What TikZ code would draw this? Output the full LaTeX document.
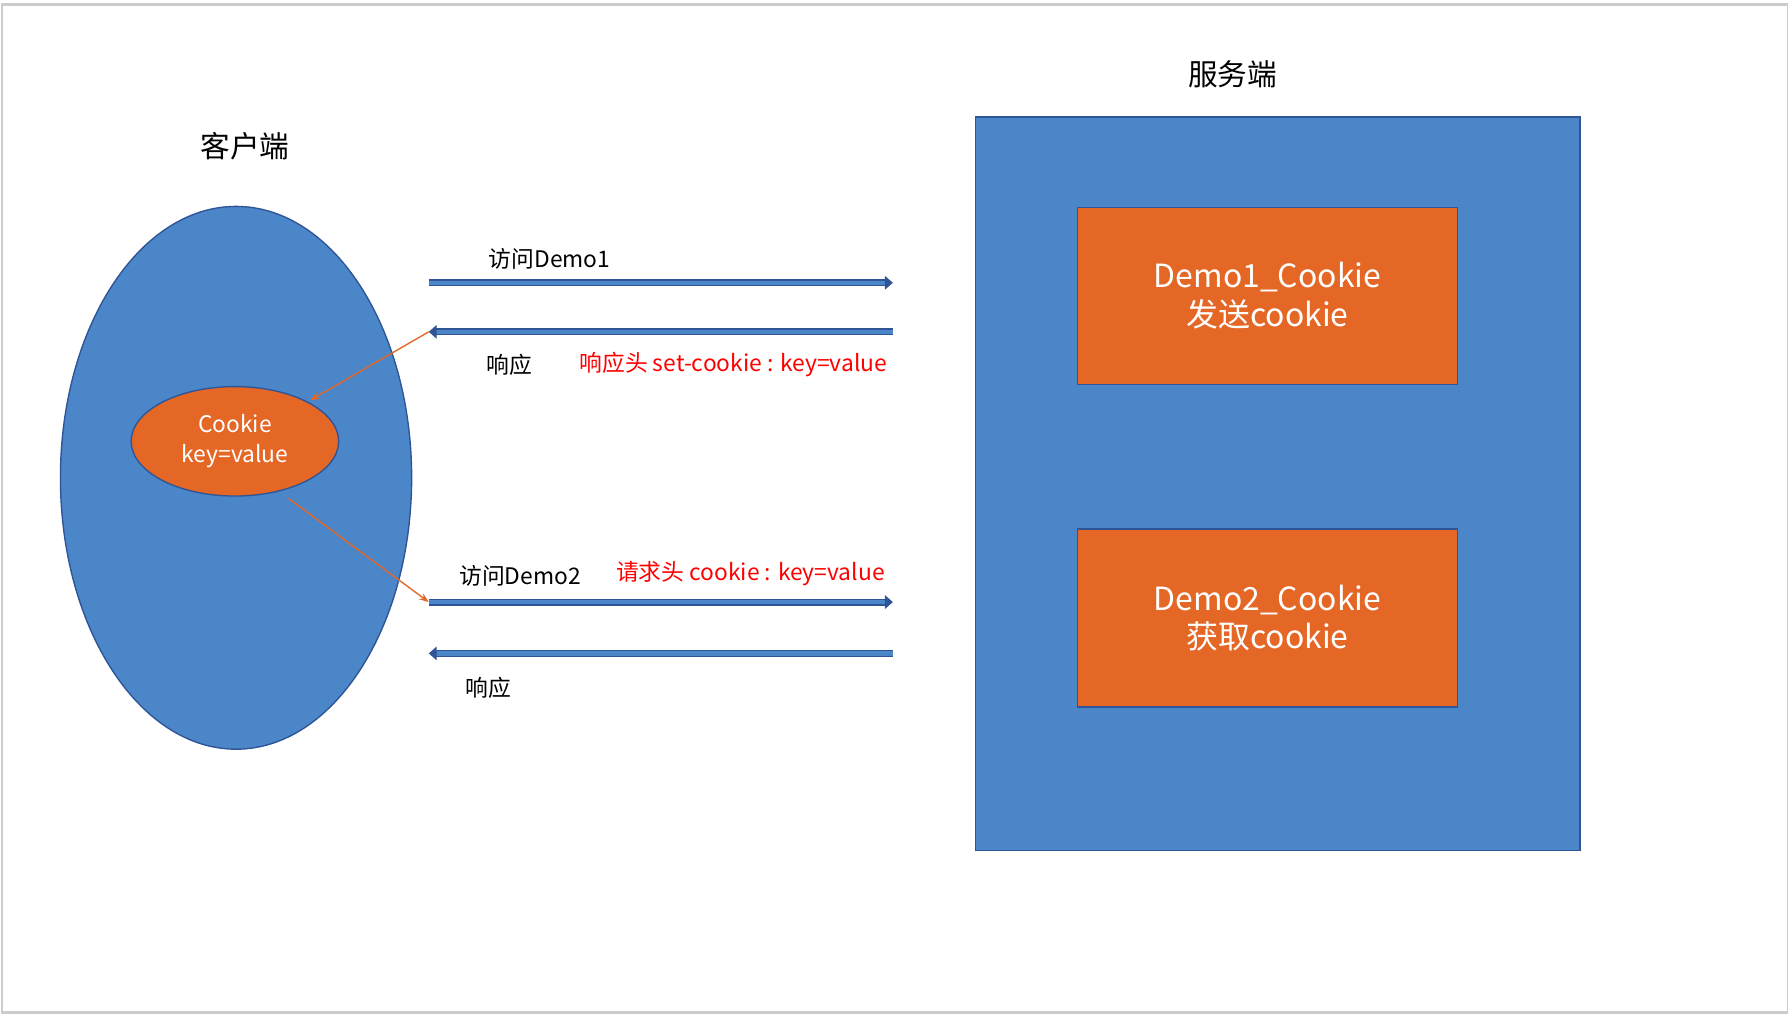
\documentclass[tikz,border=0pt]{standalone}
\usepackage{fontspec}
\usepackage{tikz}
\usetikzlibrary{arrows.meta,positioning,shapes.geometric}
\newfontfamily\cjk{Noto Sans CJK SC}
\definecolor{fillblue}{HTML}{4A86C8}
\definecolor{lineblue}{HTML}{2F5597}
\definecolor{cookieorange}{HTML}{E46726}

\begin{document}
\begin{tikzpicture}[x=1pt,y=-1pt,>=Stealth]
	\tikzset{
		blob/.style = {ellipse,draw=lineblue,fill=fillblue,line width=1.2},
		panel/.style = {rectangle,draw=lineblue,fill=fillblue,line width=1.2,anchor=north west},
		servlet/.style = {rectangle,draw=lineblue,fill=cookieorange,line width=1.2,text=white,align=center,font=\cjk\fontsize{28}{34}\selectfont},
		title/.style = {font=\cjk\fontsize{26}{30}\selectfont},
		lbl/.style = {font=\cjk\fontsize{20}{24}\selectfont},
		redlbl/.style = {lbl,text=red},
		flow/.style = {-{Triangle[length=7,width=12]},draw=lineblue,double=fillblue,double distance=4,line width=1},
		hint/.style = {->,draw=cookieorange,line width=1.2}
	}
	\useasboundingbox (0,0) rectangle (1568,891);
	\draw[black!20,line width=2] (2,4) rectangle (1568,888);

	% client side
	\node [title] (clientT) at (215,128) {客户端};
	\node [blob,minimum width=308,minimum height=476] (client) at (207,419) {};
	\node [ellipse,draw=lineblue,fill=cookieorange,line width=1.2,minimum width=182,minimum height=96,text=white,align=center,font=\cjk\fontsize{20}{26}\selectfont] (cookie) at (206,387) {Cookie\\key=value};

	% server side
	\node [title] (serverT) at (1081,65) {服务端};
	\node [panel,minimum width=530,minimum height=643] (server) at (855,102) {};
	\node [servlet,minimum width=333,minimum height=155] (demo1) at (1111.5,259.5) {Demo1\_Cookie\\发送cookie};
	\node [servlet,minimum width=333,minimum height=156] (demo2) at (1111.5,542) {Demo2\_Cookie\\获取cookie};

	% requests and responses
	\coordinate (a1s) at (376,248); \coordinate (a1e) at (783,248);
	\coordinate (a2s) at (783,291); \coordinate (a2e) at (376,291);
	\coordinate (a3s) at (376,528); \coordinate (a3e) at (783,528);
	\coordinate (a4s) at (783,573); \coordinate (a4e) at (376,573);
	\draw [flow] (a1s) -- (a1e);
	\draw [flow] (a2s) -- (a2e);
	\draw [flow] (a3s) -- (a3e);
	\draw [flow] (a4s) -- (a4e);

	\node [lbl] (req1) at (482,227) {访问Demo1};
	\node [lbl] (resp1) at (447,320) {响应};
	\node [redlbl] (setck) at (643,320) {响应头 set-cookie : key=value};
	\node [lbl] (req2) at (456,505) {访问Demo2};
	\node [redlbl] (sendck) at (658,503) {请求头 cookie : key=value};
	\node [lbl] (resp2) at (428,603) {响应};

	% cookie flow
	\coordinate (k1) at (272,351);
	\coordinate (k2) at (253,437);
	\draw [hint] (a2e) -- (k1);
	\draw [hint] (k2) -- (a3s);
\end{tikzpicture}
\end{document}
